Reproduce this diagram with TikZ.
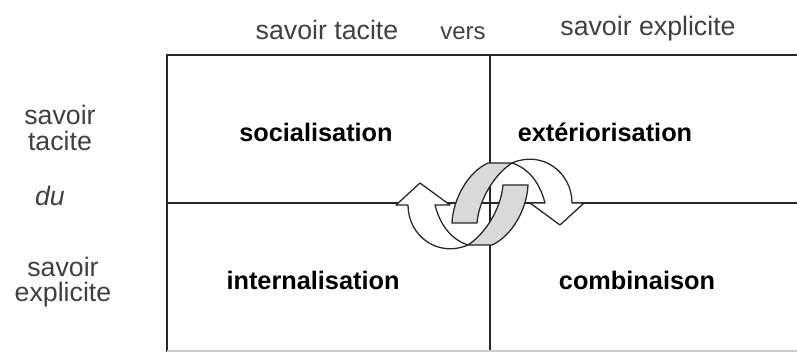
\documentclass[tikz,border=0pt]{standalone}
\usepackage{fontspec}
\setmainfont{Liberation Sans}

\begin{document}
\begin{tikzpicture}[x=0.025cm, y=-0.025cm,
  grid/.style={line width=1.2pt, draw=black!85},
  axis/.style={font=\fontsize{19}{18}\selectfont, text=black!75, align=center, inner sep=0pt},
  mode/.style={font=\fontsize{18}{18}\selectfont\bfseries, inner sep=0pt},
  band/.style={draw=black!85, line width=0.9pt, line join=round, fill=#1},
  band/.default=white]
  \useasboundingbox (0,0) rectangle (797,352);
  % cadre
  \draw[grid] (797,55) -- (167,55) -- (167,352);
  \draw[grid] (490,55) -- (490,352);
  \draw[grid] (167,203) -- (797,203);
  \draw[black!20, line width=0.8pt] (167,351) -- (797,351);
  % spirale : fleches blanches puis rubans gris
  \foreach \ang in {0,180}{
    \begin{scope}[shift={(490,204)}, rotate=\ang]
      \draw[band] (22,-41) .. controls (52,-54) and (82,-32) .. (82,-1) -- (94,-1) -- (70,21)
        -- (40,-1) -- (55,-1) .. controls (50,-20) and (40,-35) .. cycle;
    \end{scope}}
  \foreach \ang in {0,180}{
    \begin{scope}[shift={(490,204)}, rotate=\ang]
      \draw[band=gray!30] (-38,19) .. controls (-37,-5) and (-22,-32) .. (-2,-41) -- (22,-41)
        .. controls (5,-30) and (-11,-5) .. (-13,19) -- cycle;
    \end{scope}}
  % quadrants
  \node[mode] (soc) at (316,132) {socialisation};
  \node[mode] (ext) at (605,132) {extériorisation};
  \node[mode] (int) at (313,280) {internalisation};
  \node[mode] (comb) at (637,280) {combinaison};
  % axes
  \node[axis] (tacH) at (327,30) {savoir tacite};
  \node[axis, font=\fontsize{17}{18}\selectfont] (vers) at (463,33) {vers};
  \node[axis] (explH) at (648,29) {savoir explicite};
  \node[axis] (tacV) at (60,128) {savoir\\tacite};
  \node[axis, font=\fontsize{19}{18}\selectfont\itshape] (du) at (50,196) {du};
  \node[axis] (explV) at (63,282) {savoir\\explicite};
\end{tikzpicture}
\end{document}
